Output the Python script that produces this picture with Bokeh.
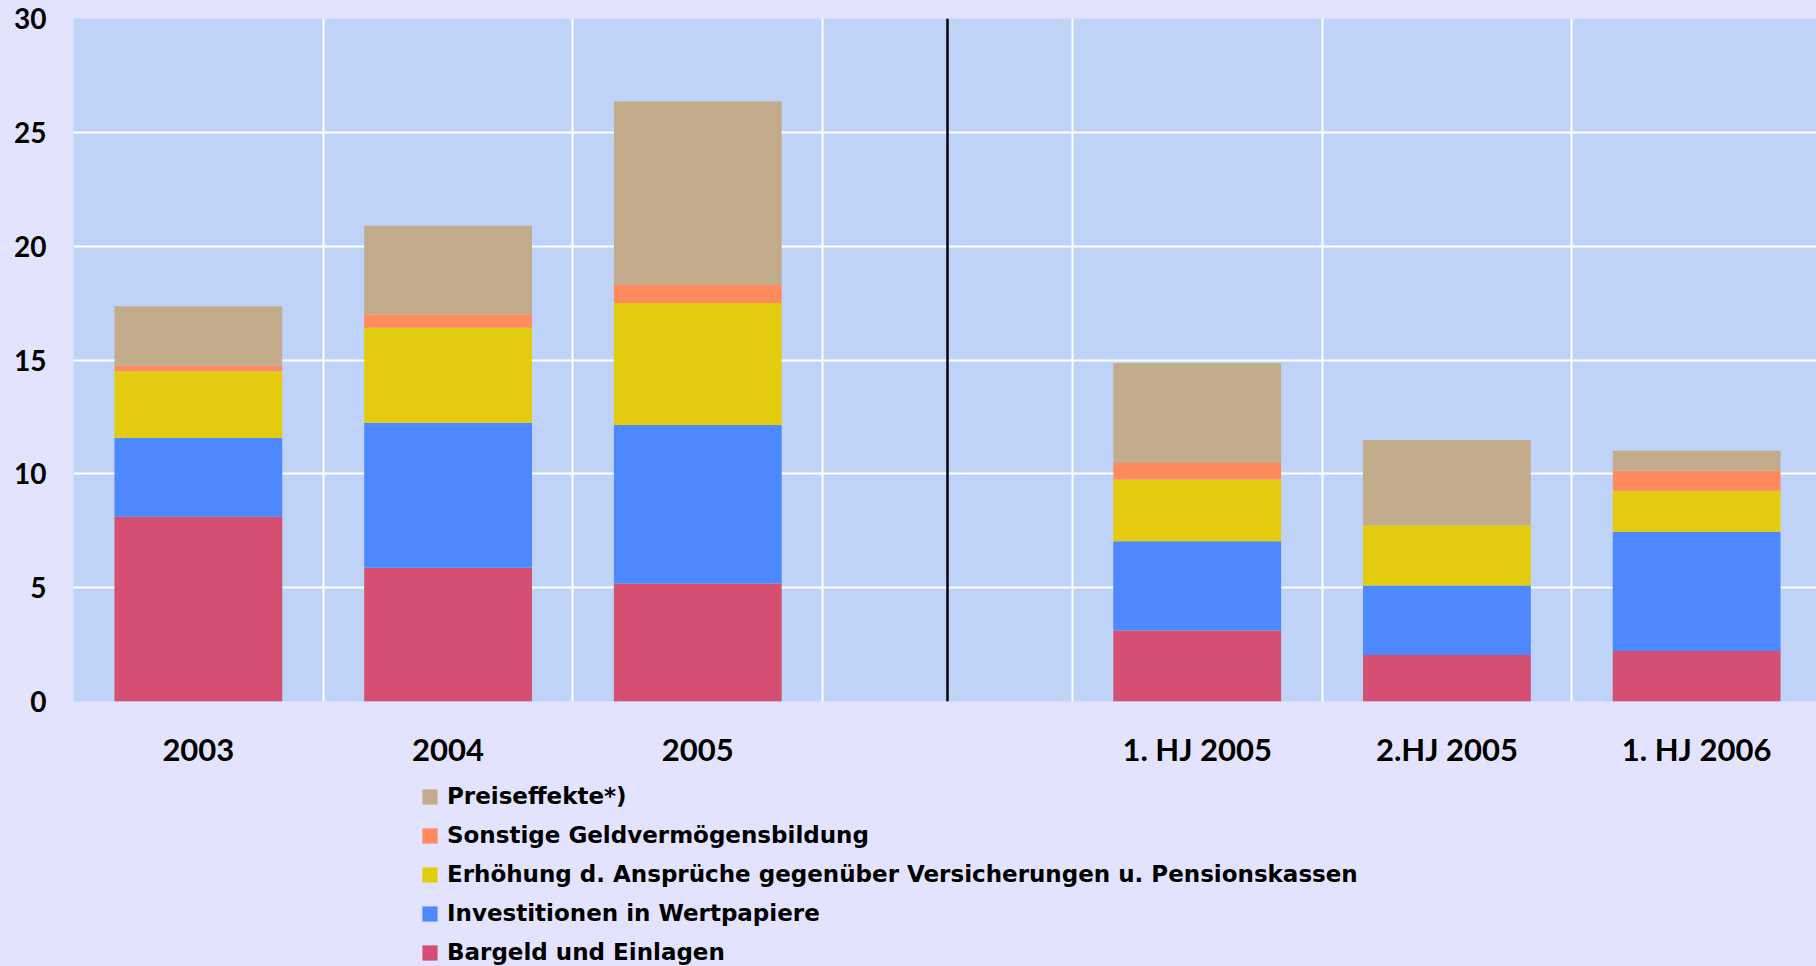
from bokeh.plotting import figure
from bokeh.layouts import column
from bokeh.models import (ColumnDataSource, FixedTicker, Legend, LegendItem,
                          Span, Range1d)
from bokeh.embed import file_html
from bokeh.resources import INLINE

# ---- data -------------------------------------------------------------
slots = ["2003", "2004", "2005", "", "1. HJ 2005", "2.HJ 2005", "1. HJ 2006"]
categories = ["2003", "2004", "2005", "1. HJ 2005", "2.HJ 2005", "1. HJ 2006"]
bargeld = [8.12, 5.87, 5.18, 3.12, 2.04, 2.22]
wertpapiere = [3.45, 6.37, 6.96, 3.92, 3.05, 5.24]
versicherungen = [2.94, 4.18, 5.36, 2.71, 2.65, 1.80]
sonstige = [0.24, 0.58, 0.79, 0.73, 0.00, 0.87]
preiseffekte = [2.61, 3.90, 8.07, 4.38, 3.75, 0.88]
series_keys = ["bargeld", "wertpapiere", "versicherungen", "sonstige", "preiseffekte"]
series_labels = ["Bargeld und Einlagen",
                 "Investitionen in Wertpapiere",
                 "Erhöhung d. Ansprüche gegenüber Versicherungen u. Pensionskassen",
                 "Sonstige Geldvermögensbildung",
                 "Preiseffekte*)"]
y_ticks = [0, 5, 10, 15, 20, 25, 30]
separator_slot = ""

# ---- style -------------------------------------------------------------
colors = ["#D44F71", "#4E88FF", "#E3CC0F", "#FF8A5E", "#C3AC8C"]
PAGE_BG = "#E3E3FE"
PLOT_BG = "#BFD3F9"
FONT = "Lato"
LEGEND_FONT = "DejaVu Sans"
BAR_W = 0.672

x_pos = [slots.index(c) + 0.5 for c in categories]
source = ColumnDataSource(dict(x=x_pos, bargeld=bargeld, wertpapiere=wertpapiere,
                               versicherungen=versicherungen, sonstige=sonstige,
                               preiseffekte=preiseffekte))

p = figure(width=1816, height=770,
           x_range=Range1d(0, 6.98), y_range=Range1d(0, 30),
           output_backend="svg", toolbar_location=None,
           min_border_left=73, min_border_right=0, min_border_top=18,
           min_border_bottom=68,
           background_fill_color=PLOT_BG, border_fill_color=PAGE_BG,
           outline_line_color=None)

p.vbar_stack(series_keys, x="x", width=BAR_W, source=source,
             color=colors, line_color=None)

# separator
p.add_layout(Span(location=slots.index(separator_slot) + 0.5, dimension="height",
                  line_color="black", line_width=2.5))

# grids
p.xgrid.ticker = FixedTicker(ticks=list(range(len(slots) + 1)))
p.ygrid.ticker = FixedTicker(ticks=y_ticks)
for g in (p.xgrid, p.ygrid):
    g.grid_line_color = "white"
    g.grid_line_width = 2

# axes
p.xaxis.ticker = FixedTicker(ticks=x_pos)
p.xaxis.major_label_overrides = {x: c for x, c in zip(x_pos, categories)}
p.yaxis.ticker = FixedTicker(ticks=y_ticks)
for ax in (p.xaxis, p.yaxis):
    ax.axis_line_color = None
    ax.major_tick_line_color = None
    ax.minor_tick_line_color = None
    ax.major_tick_out = 0
    ax.major_tick_in = 0
    ax.major_label_text_font = FONT
    ax.major_label_text_font_style = "bold"
    ax.major_label_text_color = "black"
p.xaxis.major_label_text_font_size = "31px"
p.xaxis.major_label_standoff = 28
p.yaxis.major_label_text_font_size = "28px"
p.yaxis.major_label_standoff = 27

# ---- legend strip below the chart ------------------------------------
lf = figure(width=1816, height=196,
            x_range=Range1d(0, 1), y_range=Range1d(0, 1),
            output_backend="svg", toolbar_location=None,
            x_axis_location=None, y_axis_location=None,
            min_border_left=73, min_border_right=0, min_border_top=0,
            min_border_bottom=0,
            background_fill_color=PAGE_BG, border_fill_color=PAGE_BG,
            outline_line_color=None)
lf.grid.visible = False
legend_renderers = lf.vbar_stack(series_keys, x="x", width=BAR_W, source=source,
                                 color=colors, line_color=None, visible=False)
items = [LegendItem(label=lab, renderers=[r])
         for lab, r in zip(series_labels, legend_renderers)][::-1]
legend = Legend(items=items, location=(347, -1), orientation="vertical",
                background_fill_alpha=0, border_line_color=None,
                padding=0, margin=0, spacing=9,
                glyph_width=19, glyph_height=19, label_height=30,
                label_standoff=8,
                label_text_font=LEGEND_FONT, label_text_font_style="bold",
                label_text_font_size="23px", label_text_color="black")
lf.add_layout(legend, "center")

layout = column(p, lf, spacing=0)

html = file_html(layout, INLINE)
css = "<style>html, body {background: %s !important;}</style></head>" % PAGE_BG
html = html.replace("</head>", css, 1)
open("out.html", "w").write(html)
